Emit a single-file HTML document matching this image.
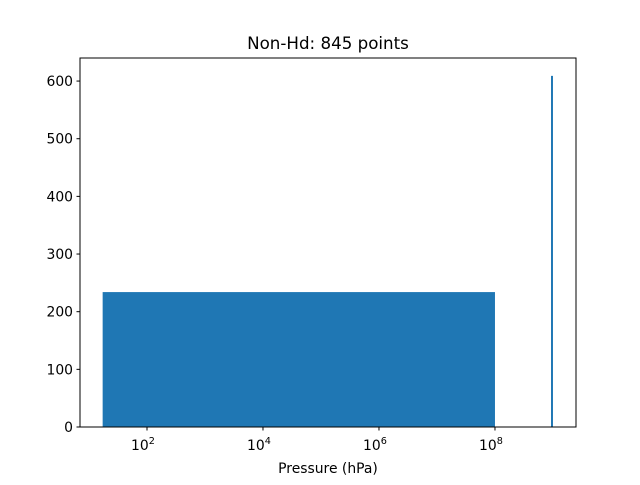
<!DOCTYPE html>
<html><head><meta charset="utf-8"><style>
body{margin:0;background:#fff}
text{font-family:"DejaVu Sans","Liberation Sans",sans-serif;fill:#000}
</style></head><body>
<svg id="c" width="640" height="480" xmlns="http://www.w3.org/2000/svg"></svg>
<script>
const binLefts=[17.2,9.25e8];
const binRights=[1e8,1e9];
const counts=[234,609];
const xTickExps=[2,4,6,8];
const yTicks=[0,100,200,300,400,500,600];
const L=80,R=576,T=58,B=427;
const xmin=0.845,xmax=9.397,ymax=640;
const xs=v=>L+(Math.log10(v)-xmin)/(xmax-xmin)*(R-L);
const ys=v=>B-v/ymax*(B-T);
const svg=document.getElementById('c');const NS='http://www.w3.org/2000/svg';
function mk(t,a,txt){const e=document.createElementNS(NS,t);for(const k in a)e.setAttribute(k,a[k]);if(txt!==undefined)e.textContent=txt;svg.appendChild(e);return e;}
for(let i=0;i<counts.length;i++){
 const x0=xs(binLefts[i]),x1=xs(binRights[i]);
 const r=mk('rect',{x:x0,y:ys(counts[i]),width:Math.max(x1-x0,1.5),height:B-ys(counts[i]),fill:'#1f77b4'});
 
 
}
const f=mk('rect',{x:L,y:T,width:R-L,height:B-T,fill:'none',stroke:'#000','stroke-width':1});


xTickExps.forEach(e=>{
 const x=xs(Math.pow(10,e));
 mk('line',{x1:x,x2:x,y1:B,y2:B+3.5,stroke:'#000'});
 const t=mk('text',{x:x-4,y:B+23,'font-size':13.9,'text-anchor':'middle'});
 
 
 t.textContent='10';
 const s=document.createElementNS(NS,'tspan');s.setAttribute('dy',-6);s.setAttribute('font-size',9.7);s.textContent=e;t.appendChild(s);
});
yTicks.forEach(v=>{
 const y=ys(v);
 mk('line',{x1:L-3.5,x2:L,y1:y,y2:y,stroke:'#000'});
 const t=mk('text',{x:L-7,y:y+5,'font-size':13.9,'text-anchor':'end'},v);
 
 
});
const xt=mk('text',{x:(L+R)/2,y:473,'font-size':13.9,'text-anchor':'middle'},'Pressure (hPa)');


const tt=mk('text',{x:(L+R)/2,y:49,'font-size':16.7,'text-anchor':'middle'},'Non-Hd: 845 points');


</script>
</body></html>
